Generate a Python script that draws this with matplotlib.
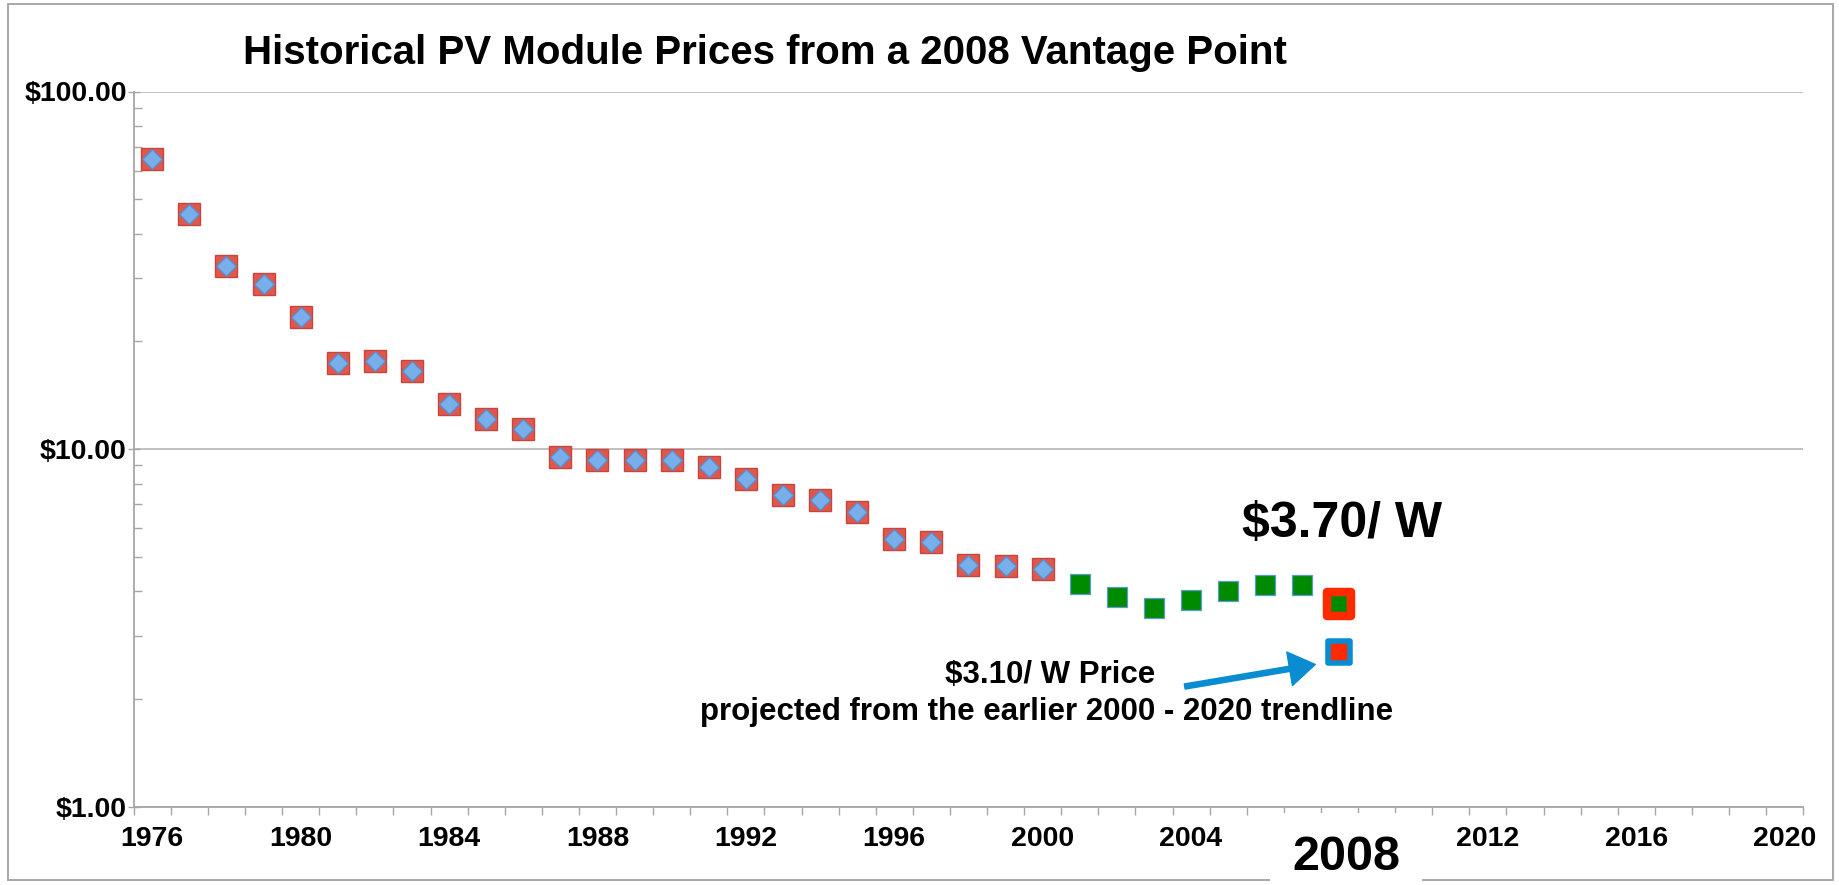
import numpy as np
import matplotlib.pyplot as plt
from matplotlib.markers import MarkerStyle
from matplotlib.patches import Rectangle, FancyArrowPatch
from matplotlib.ticker import FixedLocator, FuncFormatter, LogLocator, NullFormatter

plt.rcParams['font.family'] = ['Liberation Sans', 'DejaVu Sans']
plt.rcParams['font.weight'] = 'bold'

# price history ($/W)
years_hist = list(range(1976, 2001))
prices_hist = [64.6, 45.4, 32.6, 28.9, 23.4, 17.4, 17.6, 16.5, 13.4, 12.1,
               11.4, 9.48, 9.30, 9.33, 9.33, 8.89, 8.23, 7.42, 7.19, 6.65,
               5.59, 5.48, 4.73, 4.70, 4.61]
years_recent = list(range(2001, 2008))
prices_recent = [4.18, 3.85, 3.58, 3.77, 4.00, 4.16, 4.16]
year_2008 = [2008]
actual_2008 = [3.68]
projected_2008 = [2.71]

label_years = [1976, 1980, 1984, 1988, 1992, 1996, 2000, 2004, 2012, 2016, 2020]
y_ticks = [1, 10, 100]

W, H = 1839, 885
fig = plt.figure(figsize=(W / 100, H / 100), dpi=100)

def fx(px):
    return px / W

def fy(py):
    return 1 - py / H

ax = fig.add_axes([fx(133.7), fy(806.5), fx(1803.2) - fx(133.7), fy(91.5) - fy(806.5)])

# red squares with blue diamonds
ax.plot(years_hist, prices_hist, ls='none', marker='s', ms=15.2,
        mfc='#E2574C', mec='#C9453B', mew=1.0, zorder=3)
ax.plot(years_hist, prices_hist, ls='none', marker='D', ms=10.5,
        mfc='#78AEEA', mec='#5A8BCB', mew=1.0, zorder=4)

# green squares
ax.plot(years_recent, prices_recent, ls='none', marker='s', ms=13.7,
        mfc='#008A00', mec='#5B9BD5', mew=0.9, zorder=3)

# 2008 points
ax.plot(year_2008, actual_2008, ls='none',
        marker=MarkerStyle('s', joinstyle='round'), ms=16.9,
        mfc='#008A00', mec='#FF2A00', mew=6.1, zorder=5)
ax.plot(year_2008, projected_2008, ls='none',
        marker=MarkerStyle('s', joinstyle='round'), ms=16.2,
        mfc='#FF2A00', mec='#0A8CD2', mew=4.0, zorder=5)

ax.set_yscale('log')
ax.set_ylim(1, 100)
ax.set_xlim(1975.5, 2020.5)

ax.yaxis.set_major_locator(FixedLocator(y_ticks))
ax.yaxis.set_major_formatter(FuncFormatter(lambda v, p: '$%.2f' % v))
ax.yaxis.set_minor_locator(LogLocator(base=10, subs=np.arange(2, 10)))
ax.yaxis.set_minor_formatter(NullFormatter())

ax.xaxis.set_major_locator(FixedLocator(label_years))
ax.xaxis.set_major_formatter(FuncFormatter(lambda v, p: '%d' % v))
ax.xaxis.set_minor_locator(FixedLocator(np.arange(1975.5, 2021, 1.0)))

ax.tick_params(axis='y', which='major', direction='inout', length=8, width=1,
               color='#A6A6A6', labelsize=20.5, pad=1)
ax.tick_params(axis='y', which='minor', direction='in', length=5.5, width=1,
               color='#A6A6A6')
ax.tick_params(axis='x', which='major', length=0, labelsize=20.5, pad=14)
ax.tick_params(axis='x', which='minor', direction='out', length=5.5, width=1,
               color='#A6A6A6')

ax.grid(True, axis='y', which='major', color='#B5B5B5', lw=1.2)
ax.set_axisbelow(True)
for s in ['top', 'right']:
    ax.spines[s].set_visible(False)
for s in ['left', 'bottom']:
    ax.spines[s].set_color('#A6A6A6')
    ax.spines[s].set_linewidth(1.3)

# outer frame
fig.patches.append(Rectangle((fx(8), fy(880)), fx(1833) - fx(8), fy(4) - fy(880),
                             transform=fig.transFigure, fill=False,
                             ec='#A8A8A8', lw=1.4, zorder=0))

fig.text(fx(243), fy(53), 'Historical PV Module Prices from a 2008 Vantage Point',
         ha='left', va='center', fontsize=29, weight='bold')

fig.text(fx(1342), fy(524), '$3.70/ W', ha='center', va='center',
         fontsize=36, weight='bold')

fig.text(fx(1050), fy(675), '$3.10/ W Price', ha='center', va='center',
         fontsize=22.5, weight='bold')
fig.text(fx(1047), fy(712), 'projected from the earlier 2000 - 2020 trendline',
         ha='center', va='center', fontsize=22.5, weight='bold')

arrow = FancyArrowPatch((fx(1182), fy(687)), (fx(1318), fy(664)),
                        transform=fig.transFigure,
                        arrowstyle='simple,head_length=1.3,head_width=1.7,tail_width=0.26',
                        mutation_scale=14.4, color='#0A8CD2', zorder=6)
fig.patches.append(arrow)

fig.text(fx(1346), fy(857), '2008', ha='center', va='center', fontsize=35,
         weight='bold', zorder=5,
         bbox=dict(boxstyle='square,pad=0.45', fc='white', ec='none'))

fig.savefig('out.png', dpi=100)
